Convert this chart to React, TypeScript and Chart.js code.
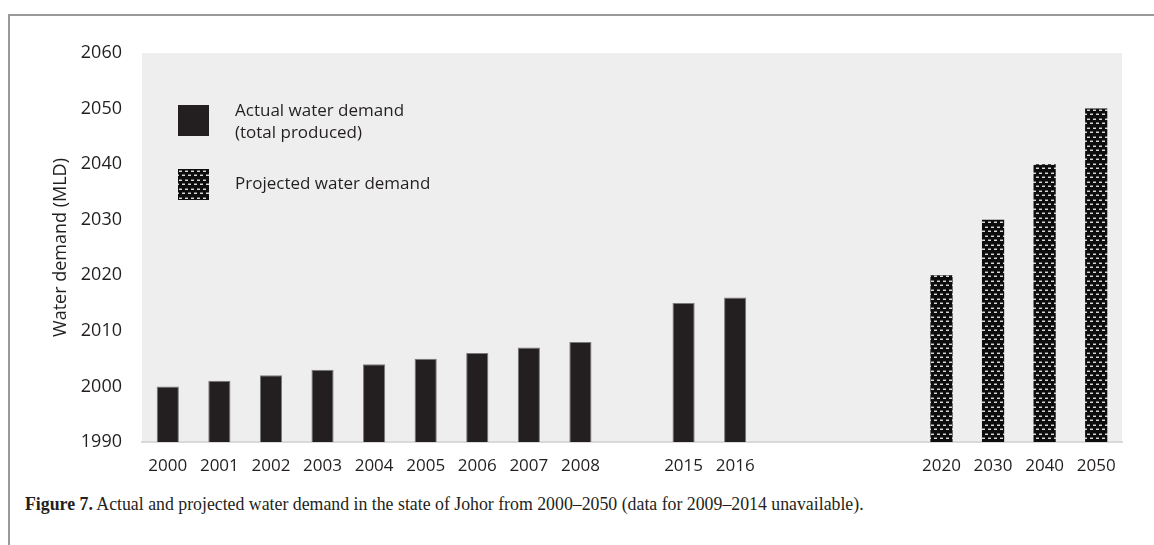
import React, { useEffect, useRef } from "react";
import { Chart, registerables } from "chart.js";

Chart.register(...registerables);

const categories = ["2000", "2001", "2002", "2003", "2004", "2005", "2006", "2007", "2008", "", "2015", "2016", "", "", "", "2020", "2030", "2040", "2050"];
const actualDemand = [2000, 2001, 2002, 2003, 2004, 2005, 2006, 2007, 2008, null, 2015, 2016, null, null, null, null, null, null, null];
const projectedDemand = [null, null, null, null, null, null, null, null, null, null, null, null, null, null, null, 2020, 2030, 2040, 2050];
const legendActual = ["Actual water demand", "(total produced)"];
const legendProjected = ["Projected water demand"];
const yTitle = "Water demand (MLD)";

const FONT = "'Open Sans', 'Noto Sans', sans-serif";
const TEXT = "#231f20";

function makePattern(): CanvasPattern | string {
  const c = document.createElement("canvas");
  c.width = 6;
  c.height = 9;
  const g = c.getContext("2d");
  if (!g) return "#222";
  g.fillStyle = "#0d0d0d";
  g.fillRect(0, 0, 6, 9);
  g.fillStyle = "#d8d8d8";
  g.fillRect(1, 2, 3, 1);
  g.fillRect(4, 6, 2, 1);
  g.fillRect(0, 6, 1, 1);
  g.fillStyle = "#6a6a6a";
  g.fillRect(1, 1, 3, 1);
  g.fillRect(4, 5, 2, 1);
  g.fillRect(0, 5, 1, 1);
  const ctx = document.createElement("canvas").getContext("2d");
  return ctx ? (ctx.createPattern(c, "repeat") as CanvasPattern) : "#222";
}

export default function App() {
  const ref = useRef<HTMLCanvasElement | null>(null);

  useEffect(() => {
    if (!ref.current) return;
    const pattern = makePattern();

    const bgPlugin = {
      id: "plotBg",
      beforeDraw(chart: any) {
        const { ctx, chartArea } = chart;
        ctx.save();
        ctx.fillStyle = "#eeeeee";
        ctx.fillRect(chartArea.left, chartArea.top, chartArea.right - chartArea.left, chartArea.bottom - chartArea.top);
        ctx.restore();
      },
    };

    const legendPlugin = {
      id: "customLegend",
      afterDraw(chart: any) {
        const { ctx, chartArea } = chart;
        const x = chartArea.left + 36;
        const y1 = chartArea.top + 52;
        const y2 = chartArea.top + 116;
        const sz = 31;
        ctx.save();
        ctx.fillStyle = chart.data.datasets[0].backgroundColor;
        ctx.fillRect(x, y1, sz, sz);
        ctx.save();
        ctx.translate(x, y2);
        ctx.fillStyle = chart.data.datasets[1].backgroundColor;
        ctx.fillRect(0, 0, sz, sz);
        ctx.restore();
        ctx.fillStyle = TEXT;
        ctx.font = `17px ${FONT}`;
        ctx.textBaseline = "middle";
        ctx.textAlign = "left";
        legendActual.forEach((t, i) => ctx.fillText(t, x + 57, y1 + 6 + i * 22));
        legendProjected.forEach((t, i) => ctx.fillText(t, x + 57, y2 + 15 + i * 22));
        ctx.restore();
      },
    };

    const chart = new Chart(ref.current, {
      type: "bar",
      data: {
        labels: categories,
        datasets: [
          {
            label: "Actual water demand (total produced)",
            data: actualDemand as any,
            backgroundColor: "#231f20",
            borderColor: "#7a7a7a",
            borderWidth: 1,
            grouped: false,
            categoryPercentage: 1,
            barPercentage: 0.43,
          },
          {
            label: "Projected water demand",
            data: projectedDemand as any,
            backgroundColor: pattern as any,
            borderWidth: 0,
            grouped: false,
            categoryPercentage: 1,
            barPercentage: 0.43,
          },
        ],
      },
      options: {
        animation: false,
        responsive: false,
        maintainAspectRatio: false,
        layout: { padding: { left: 50, top: 53, right: 32, bottom: 6 } },
        plugins: { legend: { display: false }, tooltip: { enabled: false } },
        scales: {
          x: {
            grid: { display: false, drawTicks: false },
            border: { display: true, color: "#d9d9d9", width: 2 },
            ticks: { color: TEXT, font: { family: FONT, size: 17 }, padding: 14, maxRotation: 0, autoSkip: false },
            afterFit: (s: any) => { s.height = 42; },
          },
          y: {
            min: 1990,
            max: 2060,
            grid: { display: false, drawTicks: false },
            border: { display: false },
            ticks: { stepSize: 10, color: TEXT, font: { family: FONT, size: 18 }, padding: 20, callback: (v: any) => String(v) },
            title: { display: true, text: yTitle, color: TEXT, font: { family: FONT, size: 18 }, padding: 0 },
            afterFit: (s: any) => { s.width = 92; },
          },
        },
      },
      plugins: [bgPlugin, legendPlugin],
    });
    return () => chart.destroy();
  }, []);

  return (
    <div style={{ position: "absolute", left: 0, top: 0, width: 1154, height: 545, background: "#fff", overflow: "hidden" }}>
      <div style={{ position: "absolute", left: 8, top: 14, width: 1146, height: 531, borderTop: "2px solid #9a9a9a", borderLeft: "2px solid #9a9a9a" }} />
      <canvas ref={ref} width={1154} height={490} style={{ position: "absolute", left: 0, top: 0 }} />
      <div style={{ position: "absolute", left: 25, top: 494, fontFamily: "'Liberation Serif', 'DejaVu Serif', serif", fontSize: 17.8, color: TEXT, whiteSpace: "nowrap" }}>
        <b>Figure 7.</b> Actual and projected water demand in the state of Johor from 2000–2050 (data for 2009–2014 unavailable).
      </div>
    </div>
  );
}
